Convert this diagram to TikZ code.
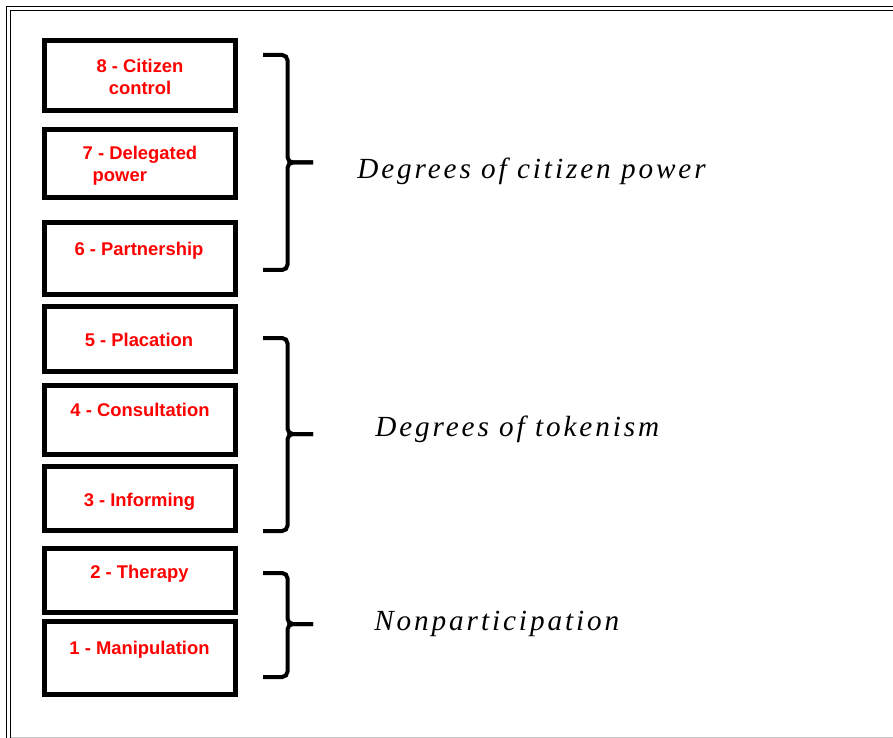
\documentclass[tikz,border=0pt]{standalone}
\usepackage{fontspec}
\setmainfont{Liberation Sans}
\newfontfamily\degreefont[LetterSpace=10]{Liberation Serif}
\usetikzlibrary{fit}

\tikzset{
  rung/.style={draw, line width=3.4pt, inner sep=0pt},
  rungtext/.style={text=red, font=\fontsize{13.8}{16.5}\selectfont\bfseries, align=center, inner sep=0pt},
  bracket/.style={line width=3pt, rounded corners=4pt},
  degree/.style={font=\fontsize{21.9}{24}\selectfont\degreefont\itshape, anchor=base west, inner sep=0pt},
}

\begin{document}
\begin{tikzpicture}[x=0.75pt,y=-0.75pt]
\useasboundingbox (0,0) rectangle (893,738);
\clip (0,0) rectangle (893,738);

% page frame
\draw[line width=1.3pt] (6.5,760) |- (920,6.5);
\draw[line width=0.9pt] (10.5,760) |- (920,10.5);
\draw[gray!45, line width=0.8pt] (10.5,737.3) -- (893,737.3);

% the rungs
\node[rung, fit={(44.25,40.25) (235.75,110.75)}] (r8) {};
\node[rung, fit={(44.25,129.25) (235.75,197.75)}] (r7) {};
\node[rung, fit={(44.25,222.25) (235.75,294.75)}] (r6) {};
\node[rung, fit={(44.25,306.25) (235.75,371.75)}] (r5) {};
\node[rung, fit={(44.25,385.25) (235.75,454.75)}] (r4) {};
\node[rung, fit={(44.25,466.25) (235.75,530.75)}] (r3) {};
\node[rung, fit={(44.25,548.25) (235.75,612.75)}] (r2) {};
\node[rung, fit={(44.25,621.25) (235.75,694.75)}] (r1) {};

\node[rungtext] (t8) at (140,77) {8 - Citizen\\control};
\node[rungtext, align=left] (t7) at (140,166) {7 - Delegated\\\hspace*{7.5pt}power};
\node[rungtext, anchor=base] (t6) at (139,255.5) {6 - Partnership};
\node[rungtext, anchor=base] (t5) at (139,346.5) {5 - Placation};
\node[rungtext, anchor=base] (t4) at (140,416.5) {4 - Consultation};
\node[rungtext, anchor=base] (t3) at (139.5,506.5) {3 - Informing};
\node[rungtext, anchor=base] (t2) at (139.5,578.5) {2 - Therapy};
\node[rungtext, anchor=base] (t1) at (139.5,654.5) {1 - Manipulation};

% braces
\draw[bracket] (263,55) -| (287.5,162.5) -- (313,162.5);
\draw[bracket] (313,162.5) -- (287.5,162.5) |- (263,270);
\draw[bracket] (263,338) -| (287.5,434) -- (313,434);
\draw[bracket] (313,434) -- (287.5,434) |- (263,531);
\draw[bracket] (263,573) -| (287.5,624) -- (313,624);
\draw[bracket] (313,624) -- (287.5,624) |- (263,677);

\node[degree] (power) at (357,179) {Degrees of citizen power};
\node[degree] (token) at (375,436) {Degrees of tokenism};
\node[degree] (nonpart) at (374,630) {Nonparticipation};
\end{tikzpicture}
\end{document}
